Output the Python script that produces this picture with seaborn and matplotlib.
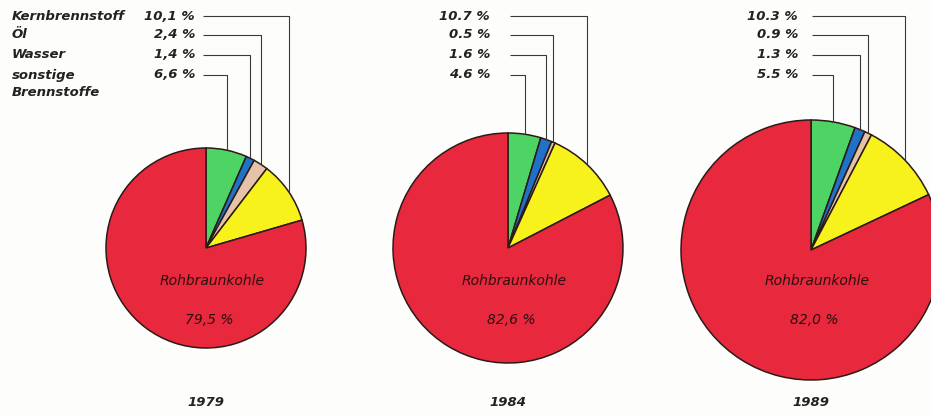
"""
Anteile der Energietraeger an der Elektroenergieerzeugung, 1979 / 1984 / 1989
"""

import numpy as np
import matplotlib
matplotlib.use("Agg")
import matplotlib.pyplot as plt
import seaborn as sns

# data (percent)
years = ["1979", "1984", "1989"]
sonstige = [6.6, 4.6, 5.5]
wasser = [1.4, 1.6, 1.3]
oel = [2.4, 0.5, 0.9]
kernbrennstoff = [10.1, 10.7, 10.3]
rohbraunkohle = [79.5, 82.6, 82.0]
label_names = ["Kernbrennstoff", "Öl", "Wasser", "sonstige", "Brennstoffe"]
decimal_sep = [",", ".", "."]

sns.set_theme(style="white")
plt.rcParams["font.family"] = ["DejaVu Sans"]

# slice colours: sonstige, Wasser, Öl, Kern, Rohbraunkohle
palette = sns.color_palette(["#4ed464", "#1f72c8", "#e6c3a8", "#f8f21c", "#e8283c"])
edge = "#2b1a18"
line_col = "#3a3a3a"
text_col = "#222222"

W, H = 931, 416
fig = plt.figure(figsize=(W / 100, H / 100), dpi=100)
fig.patch.set_facecolor("#fdfdfb")
ax = fig.add_axes([0, 0, 1, 1])

# layout in pixels (measured from top)
centers = [(206, 248), (508, 248), (811, 250)]
radii = [100, 115, 130]
label_right = [195, 490, 798]
line_start = [203, 510, 812]
row_y = [16, 35, 55, 75, 93]


def fmt(v, sep):
    return f"{v:.1f}".replace(".", sep) + " %"


for i, year in enumerate(years):
    cx, cy = centers[i]
    cy_up = H - cy
    r = radii[i]
    vals = [sonstige[i], wasser[i], oel[i], kernbrennstoff[i], rohbraunkohle[i]]
    ax.pie(vals, colors=palette, startangle=90, counterclock=False,
           center=(cx, cy_up), radius=r,
           wedgeprops=dict(edgecolor=edge, linewidth=1.1))

    # leader lines go to the middle of each slice on the rim
    cum = np.cumsum([0] + vals[:-1])
    mid = [(cum[k] + vals[k] / 2) * 3.6 for k in range(4)]
    # rows top->bottom: Kern, Öl, Wasser, sonstige -> slice index 3, 2, 1, 0
    row_vals = [kernbrennstoff[i], oel[i], wasser[i], sonstige[i]]
    for row, k in enumerate([3, 2, 1, 0]):
        th = np.deg2rad(mid[k])
        px = cx + r * np.sin(th)
        py = cy_up + r * np.cos(th)
        ly = H - row_y[row]
        ax.plot([line_start[i], px, px], [ly, ly, py],
                color=line_col, lw=0.8, solid_capstyle="butt")
        ax.text(label_right[i], ly, fmt(row_vals[row], decimal_sep[i]),
                ha="right", va="center", fontsize=9.5, style="oblique",
                fontweight="bold", color=text_col)

    # text inside the red slice
    ax.text(cx + 6, H - 281, "Rohbraunkohle", ha="center", va="center",
            fontsize=10, style="oblique", color="#2a1010")
    ax.text(cx + 3, H - 320, fmt(rohbraunkohle[i], ","), ha="center", va="center",
            fontsize=10, style="oblique", color="#2a1010")

    ax.text(cx, H - 403, year, ha="center", va="center", fontsize=9.5,
            style="oblique", fontweight="bold", color=text_col)

# category names, left column only
for row, name in enumerate(label_names):
    ax.text(12, H - row_y[row], name, ha="left", va="center", fontsize=9.5,
            style="oblique", fontweight="bold", color=text_col)

ax.set_xlim(0, W)
ax.set_ylim(0, H)
ax.set_aspect("equal")
ax.axis("off")

fig.savefig("out.png", dpi=100, facecolor=fig.get_facecolor())
